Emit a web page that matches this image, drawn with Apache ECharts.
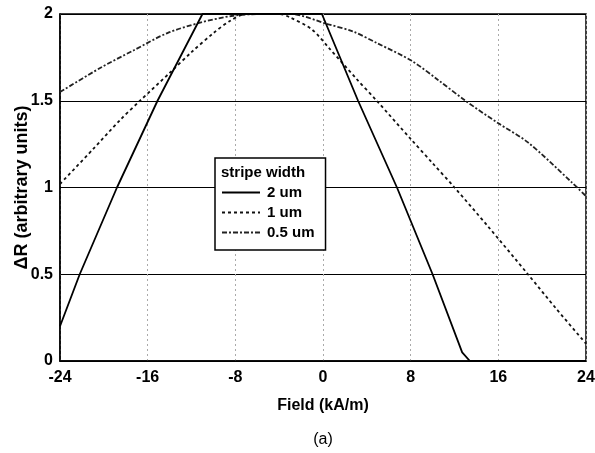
<!DOCTYPE html>
<html><head><meta charset="utf-8">
<script src="https://cdn.jsdelivr.net/npm/echarts@6/dist/echarts.min.js"></script>
<style>html,body{margin:0;padding:0;background:#fff}#c{width:595px;height:453px}</style>
</head><body><div id="c"></div>
<script>
// ---- data ----
const xTicks = [-24, -16, -8, 0, 8, 16, 24];
const yTicks = [0, 0.5, 1, 1.5, 2];
const seriesNames = ['2 um', '1 um', '0.5 um'];

const x2um = [-24, -22.2, -18.8, -15.1, -11.0, -0.1, 3.2, 6.75, 10.0, 12.7, 13.4, 24];
const y2um = [0.2, 0.5, 1.0, 1.5, 2.0, 2.0, 1.5, 1.0, 0.5, 0.05, 0.0, 0.0];

const x1um = [-24, -21, -18.5, -16.7, -14, -12, -10, -8.5, -7, -4, -3, -1, 0.6, 3, 4.9, 8, 10, 12, 15, 18.7, 21.3, 24];
const y1um = [1.02, 1.22, 1.39, 1.5, 1.66, 1.78, 1.89, 1.96, 2.0, 2.0, 1.98, 1.91, 1.80, 1.63, 1.5, 1.28, 1.14, 1.0, 0.78, 0.5, 0.30, 0.10];

const x05um = [-24, -20.3, -17.3, -14.2, -11.2, -8.2, -5.5, -3, 0.5, 2.7, 5, 8.1, 10.5, 13, 16, 18.7, 22.7, 24];
const y05um = [1.55, 1.69, 1.79, 1.89, 1.95, 1.99, 2.0, 2.0, 1.94, 1.90, 1.83, 1.73, 1.62, 1.5, 1.37, 1.26, 1.03, 0.95];

const pairs = (xs, ys) => xs.map((x, i) => [x, ys[i]]);

const chart = echarts.init(document.getElementById('c'), null, {renderer: 'canvas'});
const FONT = 'Liberation Sans, Arial, sans-serif';
chart.setOption({
  animation: false,
  backgroundColor: '#fff',
  grid: {left: 60, right: 9, top: 14, bottom: 92, show: true, borderColor: '#000', borderWidth: 1.5,
         containLabel: false, outerBoundsMode: 'none'},
  title: {
    text: '(a)', left: 318, top: 427, textAlign: 'center',
    textStyle: {fontFamily: FONT, fontWeight: 'normal', fontSize: 16, color: '#000'}
  },
  legend: {
    orient: 'vertical', left: 215, top: 158,
    padding: [27, 11, 10, 6], itemGap: 5, itemWidth: 38, itemHeight: 15,
    backgroundColor: '#fff', borderColor: '#000', borderWidth: 1.5,
    data: seriesNames,
    itemStyle: {opacity: 0},
    textStyle: {fontFamily: FONT, fontWeight: 'bold', fontSize: 15, color: '#000', padding: [0, 0, 0, 2]}
  },
  graphic: [{
    type: 'text', left: 221, top: 165, z: 100,
    style: {text: 'stripe width', font: 'bold 15px ' + FONT, fill: '#000'}
  }],
  xAxis: {
    type: 'value', min: -24, max: 24, interval: 8,
    name: 'Field (kA/m)', nameLocation: 'middle', nameGap: 37, nameMoveOverlap: false,
    nameTextStyle: {fontFamily: FONT, fontWeight: 'bold', fontSize: 16, color: '#000'},
    axisLine: {show: true, onZero: false, lineStyle: {color: '#000', width: 1.5}},
    axisTick: {show: false},
    axisLabel: {fontFamily: FONT, fontWeight: 'bold', fontSize: 16, color: '#000', margin: 9,
      formatter: v => xTicks.includes(v) ? String(v) : ''},
    splitLine: {show: true, lineStyle: {color: '#aaa', type: [2, 3], width: 1}}
  },
  yAxis: {
    type: 'value', min: 0, max: 2, interval: 0.5,
    name: 'ΔR (arbitrary units)', nameLocation: 'middle', nameGap: 29, nameMoveOverlap: false,
    nameTextStyle: {fontFamily: FONT, fontWeight: 'bold', fontSize: 18, color: '#000'},
    axisLine: {show: true, onZero: false, lineStyle: {color: '#000', width: 1.5}},
    axisTick: {show: false},
    axisLabel: {fontFamily: FONT, fontWeight: 'bold', fontSize: 16, color: '#000', margin: 7,
      formatter: v => yTicks.includes(v) ? String(v) : ''},
    splitLine: {show: true, lineStyle: {color: '#000', width: 1}}
  },
  series: [
    {name: seriesNames[0], type: 'line', symbol: 'none', data: pairs(x2um, y2um),
     lineStyle: {color: '#000', width: 1.8, type: 'solid'}, itemStyle: {color: '#000'}, z: 5},
    {name: seriesNames[1], type: 'line', symbol: 'none', data: pairs(x1um, y1um), smooth: 0.3,
     lineStyle: {color: '#111', width: 1.8, type: [3, 3]}, itemStyle: {color: '#111'}, z: 4},
    {name: seriesNames[2], type: 'line', symbol: 'none', data: pairs(x05um, y05um), smooth: 0.3,
     lineStyle: {color: '#222', width: 1.8, type: [5, 2, 2, 2]}, itemStyle: {color: '#222'}, z: 3}
  ]
});
</script></body></html>
